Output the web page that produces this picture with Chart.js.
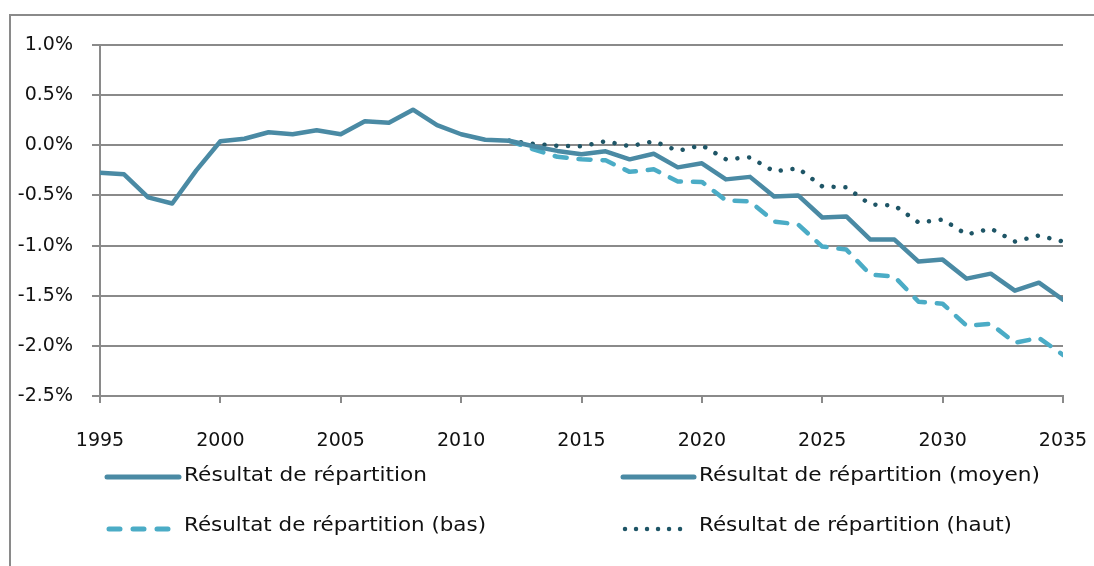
<!DOCTYPE html>
<html>
<head>
<meta charset="utf-8">
<script src="https://cdn.jsdelivr.net/npm/chart.js@4/dist/chart.umd.min.js"></script>
<style>
  html, body { margin: 0; padding: 0; background: #fff; }
  #wrap { position: relative; width: 1094px; height: 566px; overflow: hidden; }
  #frame { position: absolute; left: 9px; top: 14px; width: 1200px; height: 700px;
           border-top: 2px solid #8a8a8a; border-left: 2px solid #8a8a8a; }
  canvas { position: absolute; left: 0; top: 0; }
  #legend { position: absolute; left: 0; top: 0; pointer-events: none; }
  #legend text { font-family: "DejaVu Sans", sans-serif; font-size: 19px; fill: #111; }
</style>
</head>
<body>
<div id="wrap">
  <div id="frame"></div>
  <canvas id="c" width="1094" height="566"></canvas>
  <svg id="legend" width="1094" height="566" xmlns="http://www.w3.org/2000/svg">
    <line x1="107" y1="477" x2="179" y2="477" stroke="#4A8AA4" stroke-width="5" stroke-linecap="round"/>
    <text x="184" y="481" textLength="243" lengthAdjust="spacingAndGlyphs">Résultat de répartition</text>
    <line x1="623" y1="477" x2="694" y2="477" stroke="#4A8AA4" stroke-width="5" stroke-linecap="round"/>
    <text x="699" y="481" textLength="341" lengthAdjust="spacingAndGlyphs">Résultat de répartition (moyen)</text>
    <line x1="109" y1="529" x2="168" y2="529" stroke="#4BACC6" stroke-width="5" stroke-linecap="round" stroke-dasharray="11 13"/>
    <text x="184" y="531" textLength="302" lengthAdjust="spacingAndGlyphs">Résultat de répartition (bas)</text>
    <line x1="625" y1="529" x2="691" y2="529" stroke="#1E5566" stroke-width="4.5" stroke-linecap="round" stroke-dasharray="0.01 11"/>
    <text x="699" y="531" textLength="313" lengthAdjust="spacingAndGlyphs">Résultat de répartition (haut)</text>
  </svg>
</div>
<script>
// Historical series 1995-2012
const histYears = [1995,1996,1997,1998,1999,2000,2001,2002,2003,2004,2005,2006,2007,2008,2009,2010,2011,2012];
const histValues = [-0.275,-0.29,-0.52,-0.58,-0.25,0.04,0.065,0.13,0.11,0.15,0.11,0.24,0.225,0.355,0.20,0.11,0.055,0.045];

// Projection years 2012-2035
const projYears = [2012,2013,2014,2015,2016,2017,2018,2019,2020,2021,2022,2023,2024,2025,2026,2027,2028,2029,2030,2031,2032,2033,2034,2035];
const moyenValues = [0.045,-0.01,-0.056,-0.09,-0.06,-0.14,-0.085,-0.22,-0.18,-0.34,-0.315,-0.51,-0.50,-0.72,-0.71,-0.94,-0.94,-1.16,-1.14,-1.33,-1.28,-1.45,-1.37,-1.54];
const basValues = [0.045,-0.04,-0.115,-0.14,-0.15,-0.265,-0.24,-0.36,-0.365,-0.55,-0.56,-0.76,-0.79,-1.01,-1.04,-1.29,-1.31,-1.56,-1.58,-1.80,-1.78,-1.97,-1.92,-2.09];
const hautValues = [0.045,0.015,-0.005,-0.01,0.04,-0.01,0.04,-0.055,0.0,-0.14,-0.12,-0.26,-0.23,-0.41,-0.42,-0.59,-0.60,-0.77,-0.74,-0.89,-0.83,-0.96,-0.90,-0.96];

const seriesNames = ["Résultat de répartition","Résultat de répartition (moyen)","Résultat de répartition (bas)","Résultat de répartition (haut)"];

const yTickMin = -2.5, yTickMax = 1.0, yTickStep = 0.5;
const xTickMin = 1995, xTickMax = 2035, xTickStep = 5;

const toPts = (xs, ys) => xs.map((x, i) => ({x: x, y: ys[i]}));
const FONT = { family: "DejaVu Sans", size: 19 };

new Chart(document.getElementById('c'), {
  type: 'line',
  data: {
    datasets: [
      { label: seriesNames[0], data: toPts(histYears, histValues), borderColor: '#4A8AA4', borderWidth: 4.5, pointRadius: 0, borderJoinStyle: 'round', borderCapStyle: 'round' },
      { label: seriesNames[1], data: toPts(projYears, moyenValues), borderColor: '#4A8AA4', borderWidth: 4.5, pointRadius: 0, borderJoinStyle: 'round', borderCapStyle: 'round' },
      { label: seriesNames[2], data: toPts(projYears, basValues), borderColor: '#4BACC6', borderWidth: 4.5, pointRadius: 0, borderDash: [12, 12], borderJoinStyle: 'round', borderCapStyle: 'round' },
      { label: seriesNames[3], data: toPts(projYears, hautValues), borderColor: '#1E5566', borderWidth: 4.5, pointRadius: 0, borderDash: [0.01, 11.8], borderJoinStyle: 'round', borderCapStyle: 'round' }
    ]
  },
  options: {
    responsive: false,
    animation: false,
    events: [],
    layout: { padding: { left: 0, top: 45, right: 31, bottom: 110 } },
    plugins: { legend: { display: false }, tooltip: { enabled: false } },
    scales: {
      x: {
        type: 'linear', min: xTickMin, max: xTickMax,
        ticks: { stepSize: xTickStep, color: '#111', font: FONT, padding: 27, maxRotation: 0,
                 callback: v => String(v) },
        grid: { drawOnChartArea: false, drawTicks: true, tickLength: 7, color: '#8a8a8a', lineWidth: 2 },
        border: { display: true, color: '#8a8a8a', width: 2 },
        afterFit: s => { s.height = 60; s.paddingLeft = 0; s.paddingRight = 0; }
      },
      y: {
        min: yTickMin, max: yTickMax,
        ticks: { stepSize: yTickStep, color: '#111', font: FONT, padding: 19,
                 callback: v => (Math.abs(v) < 1e-9 ? 0 : v).toFixed(1) + '%' },
        grid: { color: '#8a8a8a', lineWidth: 2, tickLength: 8, drawTicks: true },
        border: { display: true, color: '#8a8a8a', width: 2 },
        afterFit: s => { s.width = 100; s.paddingTop = 0; s.paddingBottom = 0; }
      }
    }
  }
});
</script>
</body>
</html>
